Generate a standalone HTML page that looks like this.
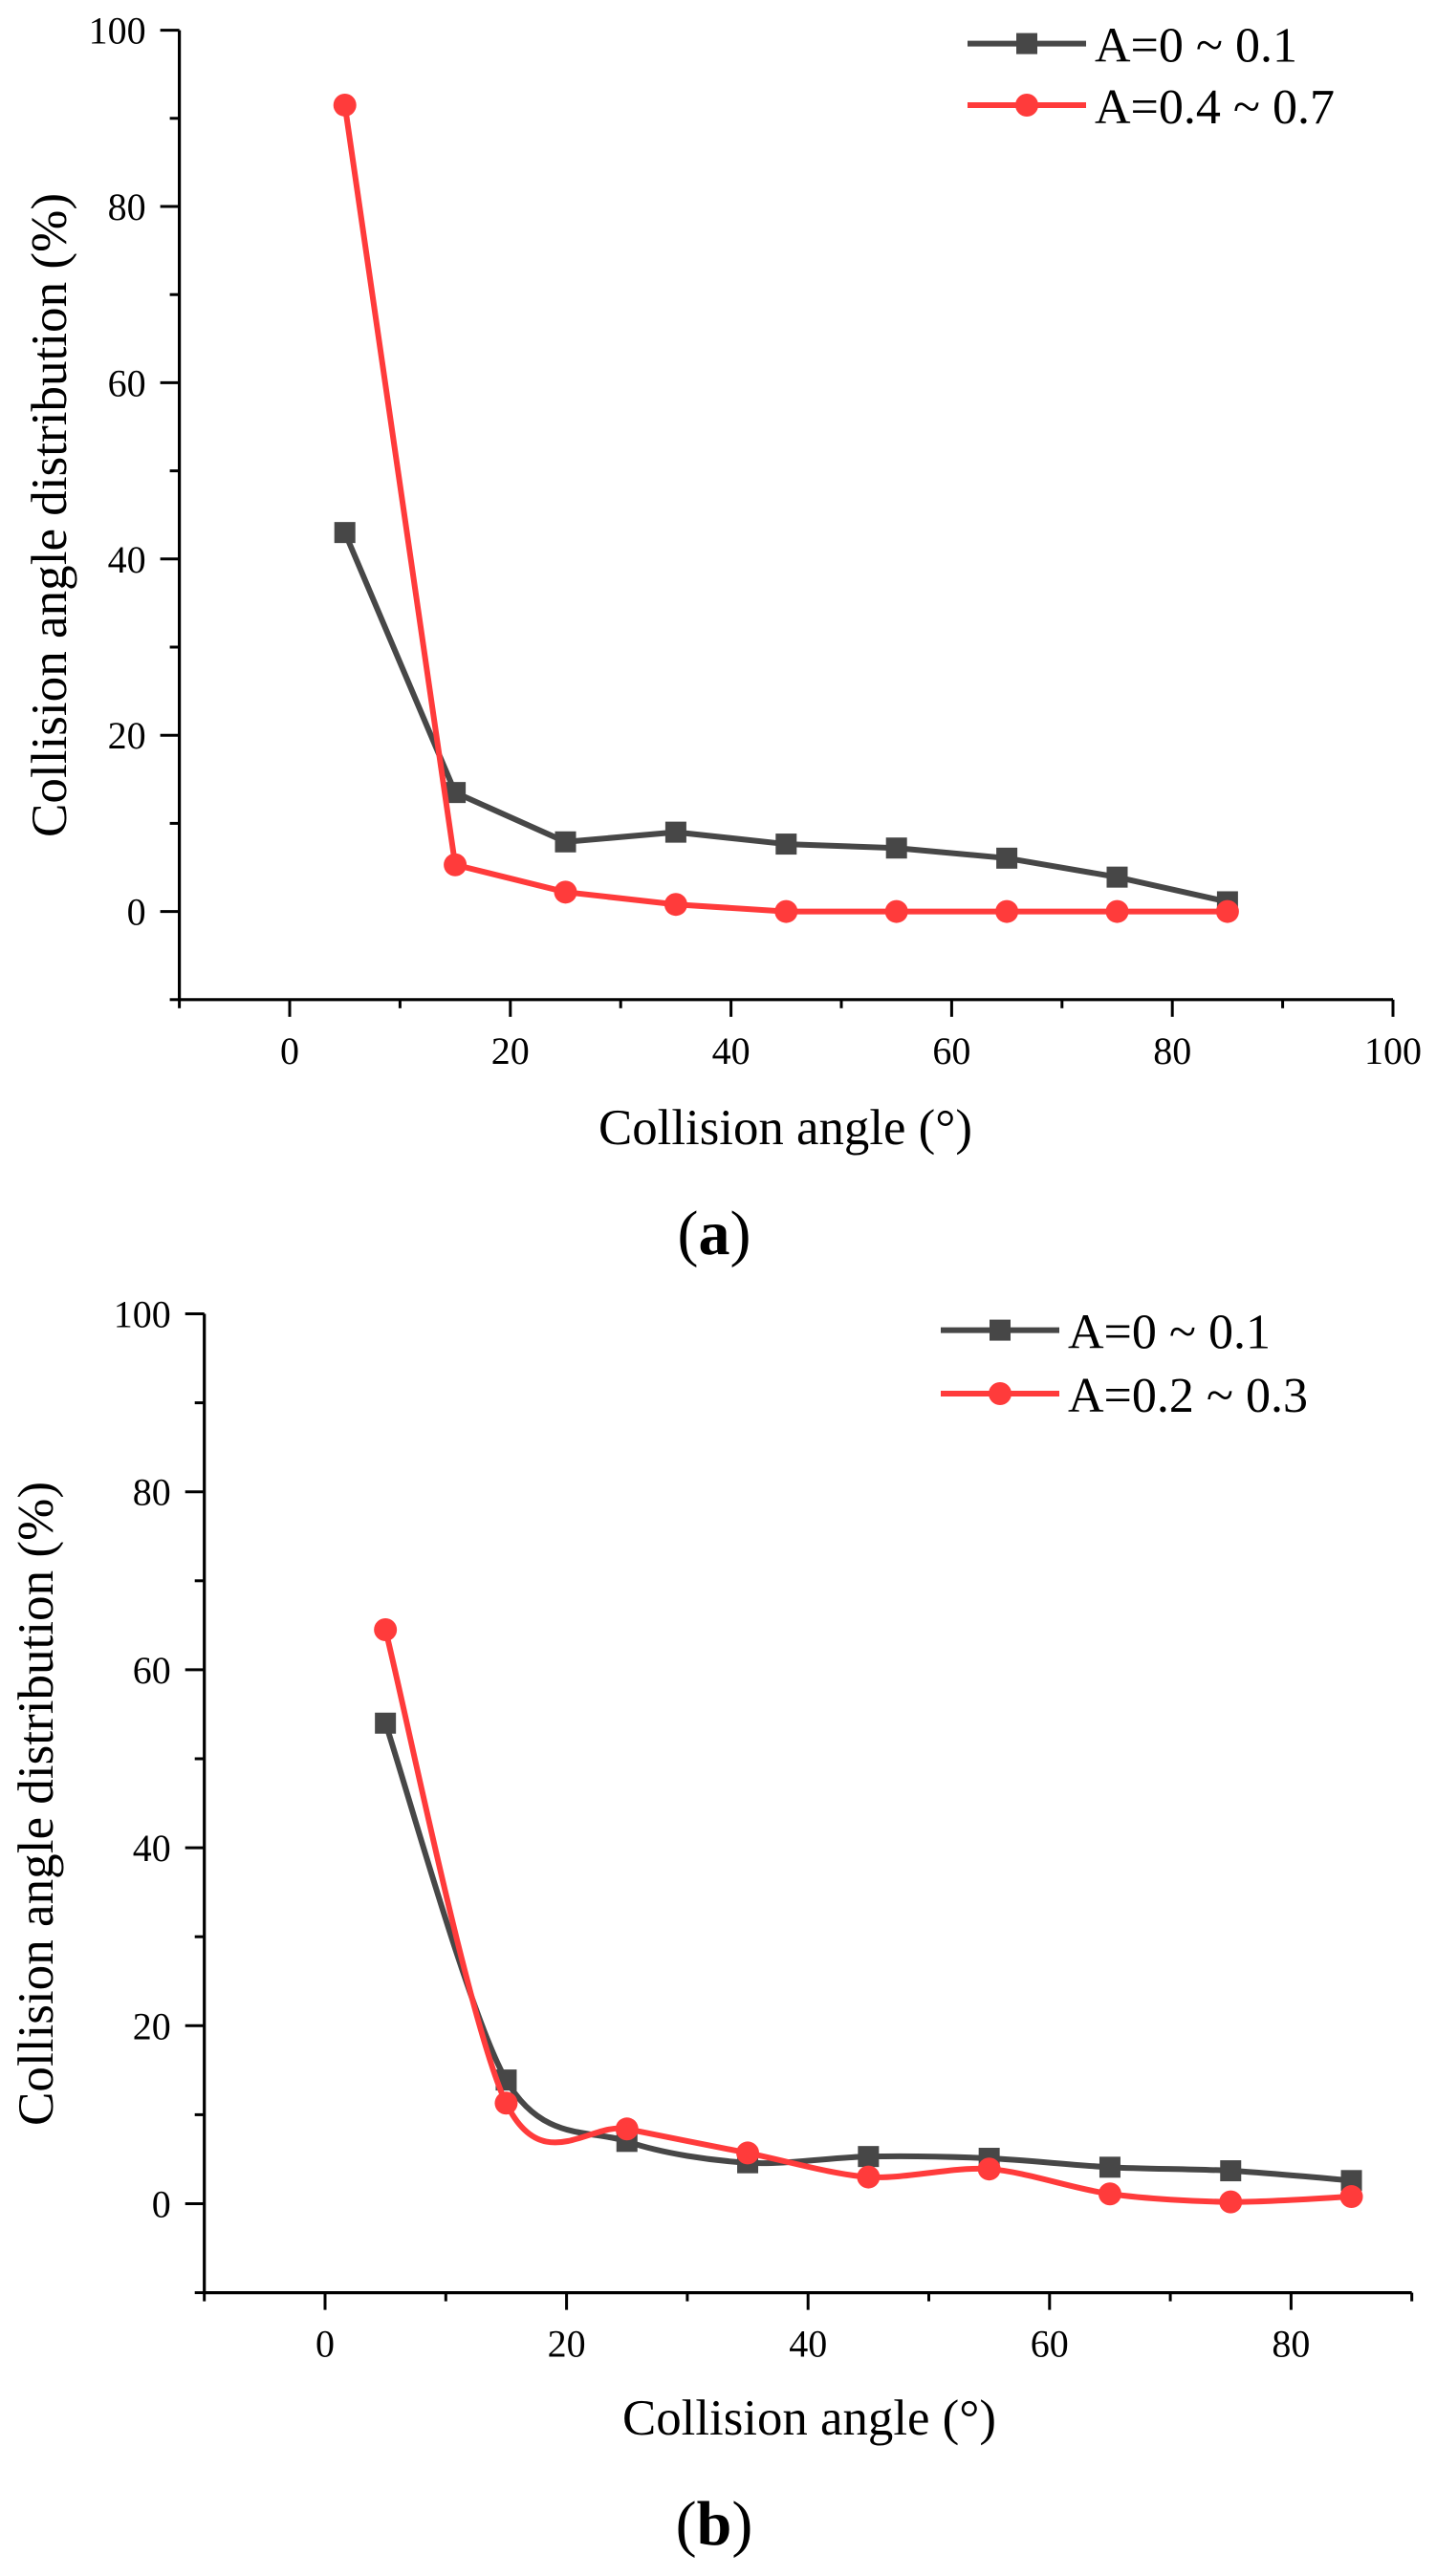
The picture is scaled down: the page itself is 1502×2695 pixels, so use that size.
<!DOCTYPE html>
<html><head><meta charset="utf-8"><style>
html,body{margin:0;padding:0;background:#fff}
svg{display:block}
text{font-family:"Liberation Serif",serif;fill:#000}
</style></head><body>
<svg id="fig" width="1502" height="2695" viewBox="0 0 1502 2695" xmlns="http://www.w3.org/2000/svg"></svg>
<script>
const categories = [5,15,25,35,45,55,65,75,85];
const seriesA1 = [43.0,13.5,7.9,9.0,7.65,7.2,6.05,3.9,1.1];
const seriesA2 = [91.5,5.3,2.2,0.8,0,0,0,0,0];
const seriesB1 = [54.0,13.9,7.0,4.6,5.3,5.1,4.1,3.7,2.6];
const seriesB2 = [64.5,11.3,8.4,5.7,3.0,3.9,1.1,0.2,0.8];
const labelsA = ['A=0 ~ 0.1','A=0.4 ~ 0.7'];
const labelsB = ['A=0 ~ 0.1','A=0.2 ~ 0.3'];
const xTicksA = [0,20,40,60,80,100];
const xTicksB = [0,20,40,60,80];
const yTicks = [0,20,40,60,80,100];

const NS='http://www.w3.org/2000/svg';
const svg=document.getElementById('fig');
function mk(tag,attrs,parent,txt){const e=document.createElementNS(NS,tag);for(const k in attrs)e.setAttribute(k,attrs[k]);if(txt!==undefined)e.textContent=txt;(parent||svg).appendChild(e);return e;}

function smoothPath(pts){
  let d='M'+pts[0][0]+','+pts[0][1];
  for(let i=0;i<pts.length-1;i++){
    const p0=pts[i-1]||pts[i],p1=pts[i],p2=pts[i+1],p3=pts[i+2]||p2;
    const t=0.15;
    const c1=[p1[0]+(p2[0]-p0[0])*t,p1[1]+(p2[1]-p0[1])*t];
    const c2=[p2[0]-(p3[0]-p1[0])*t,p2[1]-(p3[1]-p1[1])*t];
    d+=' C'+c1[0]+','+c1[1]+' '+c2[0]+','+c2[1]+' '+p2[0]+','+p2[1];
  }
  return d;
}

function chart(cfg){
  const g=mk('g',{});
  
  
  const X=v=>cfg.x0+(v)*cfg.px10/10;
  const Y=v=>cfg.y0-(v)*cfg.py10/10;
  const left=X(-10), right=X(cfg.xmax), top=Y(100), bot=Y(-10);
  const ax=mk('path',{d:`M${left},${top} L${left},${bot} L${right},${bot}`,fill:'none',stroke:'#000','stroke-width':3.2},g);
  
  
  for(let v=-10;v<=100;v+=10){
    const major=v%20===0;
    const t=mk('line',{x1:left-(major?20:10),x2:left,y1:Y(v),y2:Y(v),stroke:'#000','stroke-width':3},g);
    
    
  }
  yTicks.forEach(v=>{
    const t=mk('text',{x:left-35,y:Y(v)+14,'text-anchor':'end','font-size':40},g,String(v));
    
    
  });
  for(let v=-10;v<=cfg.xmax;v+=10){
    const major=v%20===0;
    const t=mk('line',{x1:X(v),x2:X(v),y1:bot,y2:bot+(major?18:9),stroke:'#000','stroke-width':3},g);
    
    
  }
  cfg.xTicks.forEach(v=>{
    const t=mk('text',{x:X(v),y:bot+67,'text-anchor':'middle','font-size':40},g,String(v));
    
    
  });
  const xt=mk('text',{x:cfg.xtX,y:cfg.xtY,'font-size':53,textLength:391,lengthAdjust:'spacingAndGlyphs'},g,'Collision angle (°)');
  
  
  const yt=mk('text',{x:0,y:0,'font-size':53,'text-anchor':'middle',textLength:674,lengthAdjust:'spacingAndGlyphs',transform:`translate(${cfg.ytX},${cfg.ytY}) rotate(-90)`},g,'Collision angle distribution (%)');
  
  
  const pl=mk('text',{x:747,y:cfg.panelY,'text-anchor':'middle','font-size':66},g);
  
  
  mk('tspan',{},pl,'(');
  mk('tspan',{'font-weight':'bold'},pl,cfg.panel);
  mk('tspan',{},pl,')');
  const cols=['#474747','#ff3b3b'];
  [cfg.s1,cfg.s2].forEach((s,si)=>{
    const pts=categories.map((c,i)=>[X(c),Y(s[i])]);
    const d=cfg.smooth?smoothPath(pts):'M'+pts.map(p=>p.join(',')).join(' L');
    const ln=mk('path',{d:d,fill:'none',stroke:cols[si],'stroke-width':6,'stroke-linejoin':'round'},g);
    
    
    pts.forEach(p=>{
      let m;
      if(si===0) m=mk('rect',{x:p[0]-11,y:p[1]-11,width:22,height:22,fill:cols[si]},g);
      else m=mk('circle',{cx:p[0],cy:p[1],r:12,fill:cols[si]},g);
      
      
    });
    const ly=cfg.legY[si];
    const lg=mk('g',{},g);
    
    
    mk('line',{x1:cfg.legX,x2:cfg.legX+124,y1:ly,y2:ly,stroke:cols[si],'stroke-width':6},lg);
    const mx=cfg.legX+62;
    if(si===0) mk('rect',{x:mx-11,y:ly-11,width:22,height:22,fill:cols[si]},lg);
    else mk('circle',{cx:mx,cy:ly,r:12,fill:cols[si]},lg);
    mk('text',{x:cfg.legX+133,y:ly+19,'font-size':52},lg,cfg.labels[si]);
  });
}

chart({name:'chart-a',x0:303,px10:115.4,y0:953.6,py10:92.2,xmax:100,xTicks:xTicksA,
  s1:seriesA1,s2:seriesA2,labels:labelsA,smooth:false,legX:1012,legY:[45.6,110],
  xtX:626,xtY:1197,ytX:69,ytY:539,panel:'a',panelY:1312});
chart({name:'chart-b',x0:340,px10:126.3,y0:2305.5,py10:93.1,xmax:90,xTicks:xTicksB,
  s1:seriesB1,s2:seriesB2,labels:labelsB,smooth:true,legX:984,legY:[1391.6,1458],
  xtX:651,xtY:2547,ytX:55,ytY:1887,panel:'b',panelY:2662});
</script>
</body></html>
